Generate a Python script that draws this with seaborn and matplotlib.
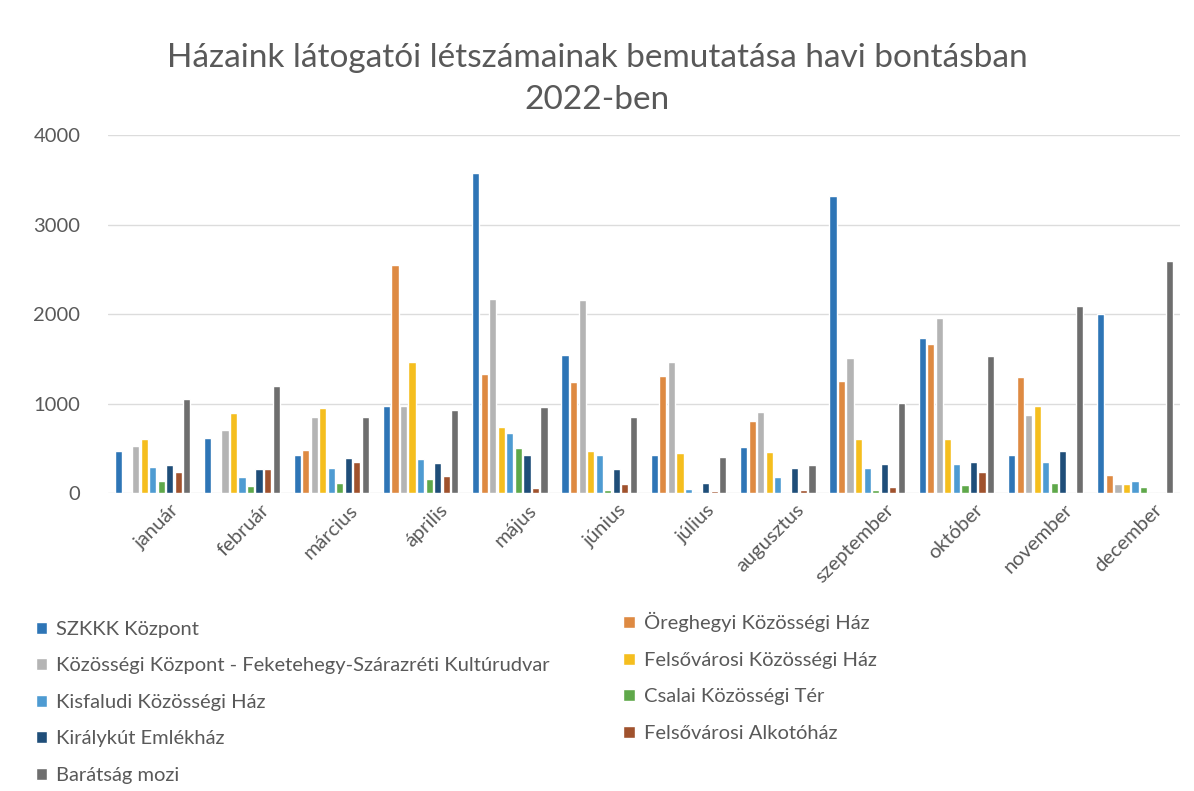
import matplotlib
matplotlib.use('Agg')
import matplotlib.pyplot as plt
import matplotlib.transforms as mtransforms
import seaborn as sns
import pandas as pd

# havi bontás
months = ['január', 'február', 'március', 'április', 'május', 'június',
          'július', 'augusztus', 'szeptember', 'október', 'november', 'december']

houses = ['SZKKK Központ',
          'Öreghegyi Közösségi Ház',
          'Közösségi Központ - Feketehegy-Szárazréti Kultúrudvar',
          'Felsővárosi Közösségi Ház',
          'Kisfaludi Közösségi Ház',
          'Csalai Közösségi Tér',
          'Királykút Emlékház',
          'Felsővárosi Alkotóház',
          'Barátság mozi']

szkkk = [470, 620, 420, 970, 3580, 1540, 430, 520, 3320, 1730, 430, 2000]
oreghegyi = [0, 0, 480, 2550, 1330, 1240, 1310, 810, 1250, 1670, 1300, 200]
feketehegy = [530, 700, 850, 970, 2170, 2160, 1470, 910, 1510, 1960, 870, 100]
felsovarosi = [600, 900, 950, 1460, 740, 470, 450, 460, 600, 600, 970, 100]
kisfaludi = [290, 180, 280, 380, 670, 430, 40, 180, 280, 320, 350, 130]
csalai = [140, 80, 110, 160, 500, 30, 0, 0, 30, 90, 110, 70]
kiralykut = [310, 270, 390, 340, 430, 270, 110, 280, 330, 350, 470, 0]
alkotohaz = [230, 270, 350, 190, 60, 100, 20, 30, 70, 230, 0, 0]
mozi = [1050, 1200, 850, 930, 960, 850, 400, 310, 1010, 1530, 2090, 2590]

colors = ['#2E75B6', '#DE8A42', '#B4B4B4', '#F5BE1E', '#4E9BD2',
          '#5FA84A', '#1F4E79', '#A0522D', '#6E6E6E']

series = [szkkk, oreghegyi, feketehegy, felsovarosi, kisfaludi,
          csalai, kiralykut, alkotohaz, mozi]
rows = []
for h, vals in zip(houses, series):
    for m, v in zip(months, vals):
        rows.append({'Hónap': m, 'Ház': h, 'Látogatók': v})
df = pd.DataFrame(rows)

sns.set_style('white')
plt.rcParams['font.family'] = ['Lato', 'DejaVu Sans']
text_col = '#595959'

fig = plt.figure(figsize=(11.94, 7.91), dpi=100)
ax = fig.add_axes([0.0905, 0.3767, 0.8975, 0.4523])

sns.barplot(data=df, x='Hónap', y='Látogatók', hue='Ház', order=months,
            hue_order=houses, palette=colors, width=0.86, gap=0.16,
            saturation=1, ax=ax, legend=True)

ax.set_ylim(0, 4000)
ax.set_xlim(-0.5, 11.5)
ax.set_yticks([0, 1000, 2000, 3000, 4000])
ax.yaxis.grid(True, color='#DCDCDC', linewidth=1)
ax.set_axisbelow(True)
for s in ax.spines.values():
    s.set_visible(False)
ax.set_xlabel('')
ax.set_ylabel('')
ax.tick_params(axis='y', labelsize=14.5, colors=text_col, length=0, pad=20)
ax.tick_params(axis='x', labelsize=14.5, colors=text_col, length=0, pad=6)
shift = mtransforms.ScaledTranslation(0.18, 0, fig.dpi_scale_trans)
for lab in ax.get_xticklabels():
    lab.set_rotation(45)
    lab.set_ha('right')
    lab.set_rotation_mode('anchor')
    lab.set_transform(lab.get_transform() + shift)

fig.text(0.5, 0.927, 'Házaink látogatói létszámainak bemutatása havi bontásban',
         ha='center', va='center', fontsize=24, color=text_col)
fig.text(0.5, 0.873, '2022-ben', ha='center', va='center', fontsize=24, color=text_col)

handles, labels = ax.get_legend_handles_labels()
ax.get_legend().remove()
left_idx = [0, 2, 4, 6, 8]
right_idx = [1, 3, 5, 7]
kw = dict(frameon=False, fontsize=14.5, handlelength=0.55, handleheight=0.55,
          handletextpad=0.45, labelspacing=0.97, labelcolor=text_col)
fig.legend([handles[i] for i in left_idx], [labels[i] for i in left_idx],
           loc='upper left', bbox_to_anchor=(0.015, 0.238), **kw)
fig.legend([handles[i] for i in right_idx], [labels[i] for i in right_idx],
           loc='upper left', bbox_to_anchor=(0.507, 0.249), **kw)

fig.savefig('out.png', dpi=100)
plt.close(fig)
